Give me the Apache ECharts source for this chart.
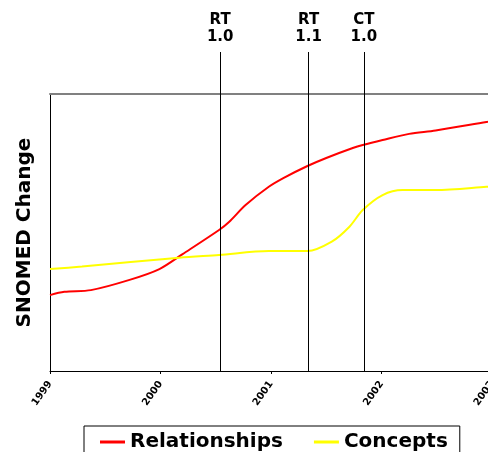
<!DOCTYPE html>
<html>
<head>
<meta charset="utf-8">
<script src="https://cdn.jsdelivr.net/npm/echarts@6/dist/echarts.min.js"></script>
<style>
  html, body { margin: 0; padding: 0; background: #fff; }
  #chart { width: 488px; height: 452px; }
</style>
</head>
<body>
<div id="chart"></div>
<script>
// values (y is relative, 0..100 of plot height)
var relYears = [1999.00, 1999.13, 1999.37, 1999.72, 1999.99, 2000.20, 2000.53, 2000.62, 2000.77, 2000.98,
                2001.12, 2001.33, 2001.50, 2001.74, 2001.83, 2002.01, 2002.25, 2002.49, 2002.95, 2003.00]
var relValues = [27.4, 28.6, 29.2, 32.9, 36.8, 42.2, 50.9, 53.8, 59.9, 66.5,
                 69.8, 74.0, 76.9, 80.5, 81.6, 83.4, 85.6, 86.8, 89.9, 90.2]
var conYears = [1999.00, 1999.29, 2000.17, 2000.53, 2000.98, 2001.33, 2001.55, 2001.71, 2001.83, 2002.01,
                2002.19, 2002.49, 2002.95, 2003.00]
var conValues = [36.8, 37.7, 40.9, 41.9, 43.3, 43.3, 46.7, 52.1, 58.1, 63.5,
                 65.3, 65.3, 66.5, 66.7]
// release markers
var releaseYears = [2000.54, 2001.34, 2001.84]
var releaseLabels = ['RT\n1.0', 'RT\n1.1', 'CT\n1.0']

var font = 'DejaVu Sans'

function pairs(xs, ys) {
    return xs.map(function (x, i) { return [x, ys[i]] })
}

var myChart = echarts.init(document.getElementById('chart'))
var option = {
    animation: false,
    backgroundColor: '#fff',
    textStyle: { fontFamily: font },
    grid: [
        { left: 50, width: 442, top: 94, bottom: 81, outerBoundsMode: 'none' },
        { left: 50, width: 442, top: 52, bottom: 81, outerBoundsMode: 'none' }
    ],
    legend: {
        data: ['Relationships', 'Concepts'],
        left: 84,
        top: 426,
        padding: [6, 12, 6, 16],
        itemGap: 31,
        itemWidth: 25,
        itemHeight: 3,
        icon: 'rect',
        borderColor: '#000',
        borderWidth: 1,
        textStyle: { fontFamily: font, fontSize: 20, fontWeight: 'bold', color: '#000' }
    },
    xAxis: [
        {
            type: 'value',
            gridIndex: 0,
            min: 1999,
            max: 2003,
            interval: 1,
            axisLine: { lineStyle: { color: '#000', width: 1 } },
            axisTick: { length: 3, lineStyle: { color: '#000' } },
            axisLabel: {
                rotate: 55,
                margin: 11,
                color: '#000',
                fontSize: 10,
                fontWeight: 'bold',
                fontFamily: font,
                showMaxLabel: true,
                formatter: function (v) { return String(v) }
            },
            splitLine: { show: false }
        },
        {
            // top edge of the plot frame
            type: 'value',
            gridIndex: 0,
            position: 'top',
            min: 1999,
            max: 2003,
            axisLine: { lineStyle: { color: '#808080', width: 2 } },
            axisTick: { show: false },
            axisLabel: { show: false },
            splitLine: { show: false }
        },
        {
            type: 'value',
            gridIndex: 1,
            min: 1999,
            max: 2003,
            show: false
        }
    ],
    yAxis: [
        {
            type: 'value',
            gridIndex: 0,
            min: 0,
            max: 100,
            name: 'SNOMED Change',
            nameLocation: 'middle',
            nameRotate: 90,
            nameGap: 15,
            nameTextStyle: { fontFamily: font, fontSize: 20, fontWeight: 'bold', color: '#000' },
            axisLine: { show: true, lineStyle: { color: '#000', width: 1 } },
            axisTick: { show: false },
            axisLabel: { show: false },
            splitLine: { show: false }
        },
        {
            type: 'value',
            gridIndex: 1,
            min: 0,
            max: 1,
            show: false
        }
    ],
    series: [
        {
            name: 'Relationships',
            type: 'line',
            xAxisIndex: 0,
            yAxisIndex: 0,
            smooth: 0.3,
            showSymbol: false,
            symbol: 'none',
            color: '#ff0000',
            lineStyle: { color: '#ff0000', width: 2 },
            data: pairs(relYears, relValues)
        },
        {
            name: 'Concepts',
            type: 'line',
            xAxisIndex: 0,
            yAxisIndex: 0,
            smooth: 0.3,
            showSymbol: false,
            symbol: 'none',
            color: '#ffff00',
            lineStyle: { color: '#ffff00', width: 2 },
            data: pairs(conYears, conValues)
        },
        {
            name: 'releases',
            type: 'line',
            xAxisIndex: 2,
            yAxisIndex: 1,
            data: [],
            silent: true,
            markLine: {
                silent: true,
                symbol: 'none',
                lineStyle: { color: '#000', width: 1, type: 'solid' },
                label: {
                    show: true,
                    position: 'end',
                    distance: 6,
                    color: '#000',
                    fontFamily: font,
                    fontSize: 15,
                    fontWeight: 'bold',
                    lineHeight: 17,
                    formatter: function (p) { return p.name }
                },
                data: releaseYears.map(function (x, i) {
                    return { xAxis: x, name: releaseLabels[i] }
                })
            }
        }
    ]
}
myChart.setOption(option)
</script>
</body>
</html>
